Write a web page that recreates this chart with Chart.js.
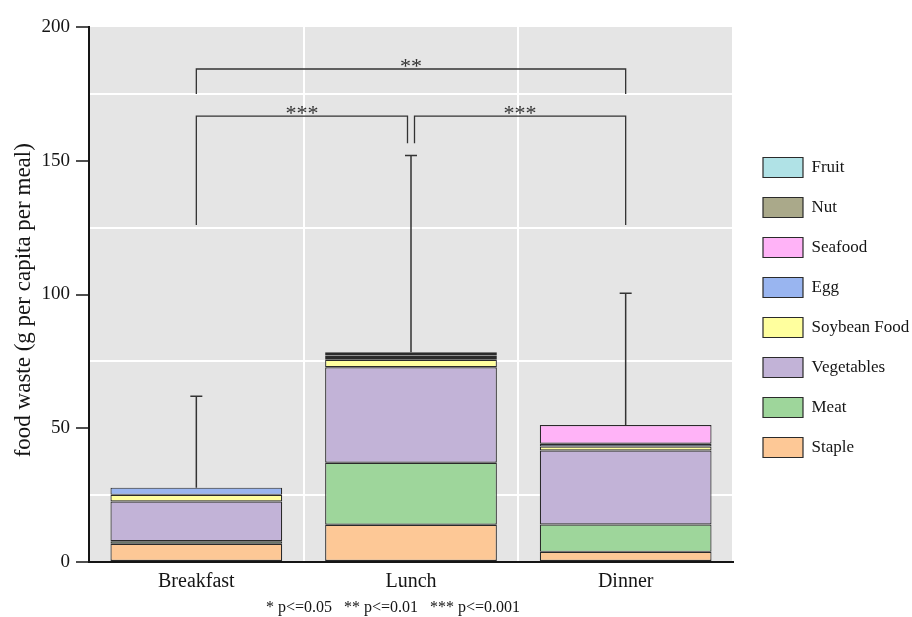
<!DOCTYPE html>
<html>
<head>
<meta charset="utf-8">
<script src="https://cdn.jsdelivr.net/npm/chart.js@4.4.1/dist/chart.umd.min.js"></script>
<style>
  html, body { margin: 0; padding: 0; background: #fff; }
  #wrap { width: 912px; height: 617px; }
</style>
</head>
<body>
<div id="wrap"><canvas id="wasteChart" width="912" height="617"></canvas></div>
<script>
// Food waste per meal, stacked by food group (g per capita per meal)
const meals = ["Breakfast", "Lunch", "Dinner"];

const staple = [6.8, 13.9, 3.8];
const meat = [1.0, 23.2, 10.2];
const vegetables = [14.8, 35.7, 27.7];
const soybeanFood = [2.5, 2.8, 1.5];
const egg = [2.7, 0.7, 1.0];
const seafood = [0, 0.9, 7.0];
const nut = [0, 0.6, 0];
const fruit = [0, 0.6, 0];

// upper error bar (SD) on the stacked total
const totalSd = [34.2, 73.6, 49.3];

// significance brackets: pair of meals, bracket height, leg ends
const sigPairs = [[0, 2], [0, 1], [1, 2]];
const sigLabels = ["**", "***", "***"];
const sigHeights = [184.3, 166.7, 166.7];
const sigLegEnds = [[175, 175], [126, 156.5], [156.5, 126]];

const yTicks = [0, 50, 100, 150, 200];
// trailing spaces nudge the centred texts a little, as in the original
const footnote = "* p<=0.05   ** p<=0.01   *** p<=0.001         ";
const yTitle = "food waste (g per capita per meal)  ";

const groupNames = ["Staple", "Meat", "Vegetables", "Soybean Food", "Egg", "Seafood", "Nut", "Fruit"];
const groupValues = [staple, meat, vegetables, soybeanFood, egg, seafood, nut, fruit];
const groupColors = ["#fdc896", "#9ed69b", "#c2b3d7", "#ffff9e", "#99b5f0", "#ffb3f7", "#aaa98a", "#b0e2e6"];

const serif = "'Liberation Serif', 'Times New Roman', serif";
const ink = "#151515";

const plotBackground = {
  id: "plotBackground",
  beforeDraw(chart) {
    const { ctx, chartArea: a } = chart;
    ctx.save();
    ctx.fillStyle = "#e5e5e5";
    ctx.fillRect(a.left, a.top, a.right - a.left, a.bottom - a.top);
    ctx.restore();
  },
};

// error whiskers on top of each stack
const errorBars = {
  id: "errorBars",
  afterDatasetsDraw(chart) {
    const { ctx } = chart;
    const x = chart.scales.x;
    const y = chart.scales.y;
    ctx.save();
    ctx.strokeStyle = "#333";
    ctx.lineWidth = 1.5;
    meals.forEach((m, i) => {
      const total = groupValues.reduce((s, arr) => s + arr[i], 0);
      const px = x.getPixelForValue(i);
      const y0 = y.getPixelForValue(total);
      const y1 = y.getPixelForValue(total + totalSd[i]);
      ctx.beginPath();
      ctx.moveTo(px, y0);
      ctx.lineTo(px, y1);
      ctx.moveTo(px - 6, y1);
      ctx.lineTo(px + 6, y1);
      ctx.stroke();
    });
    ctx.restore();
  },
};

// significance brackets with asterisks
const sigBrackets = {
  id: "sigBrackets",
  afterDatasetsDraw(chart) {
    const { ctx } = chart;
    const x = chart.scales.x;
    const y = chart.scales.y;
    const shared = (idx) =>
      sigPairs.filter((p) => p[1] - p[0] === 1 && p.includes(idx)).length > 1;
    ctx.save();
    ctx.strokeStyle = "#333";
    ctx.lineWidth = 1.3;
    ctx.fillStyle = "#333";
    ctx.font = "22px " + serif;
    ctx.textAlign = "center";
    ctx.textBaseline = "alphabetic";
    sigPairs.forEach((pair, k) => {
      let xa = x.getPixelForValue(pair[0]);
      let xb = x.getPixelForValue(pair[1]);
      if (pair[1] - pair[0] === 1) {
        if (shared(pair[0])) xa += 3.5;
        if (shared(pair[1])) xb -= 3.5;
      }
      const yl = y.getPixelForValue(sigHeights[k]);
      ctx.beginPath();
      ctx.moveTo(xa, y.getPixelForValue(sigLegEnds[k][0]));
      ctx.lineTo(xa, yl);
      ctx.lineTo(xb, yl);
      ctx.lineTo(xb, y.getPixelForValue(sigLegEnds[k][1]));
      ctx.stroke();
      ctx.fillText(sigLabels[k], (xa + xb) / 2, yl + 4);
    });
    ctx.restore();
  },
};

const ctx = document.getElementById("wasteChart").getContext("2d");

new Chart(ctx, {
  type: "bar",
  data: {
    labels: meals,
    datasets: groupNames.map((name, i) => ({
      label: name,
      data: groupValues[i],
      backgroundColor: groupColors[i],
      borderColor: "#2a2a2a",
      borderWidth: 1.2,
      borderSkipped: false,
      barPercentage: 0.8,
      categoryPercentage: 1.0,
    })),
  },
  options: {
    responsive: false,
    animation: false,
    devicePixelRatio: 1,
    layout: { padding: { top: 27, left: 0, right: 0, bottom: 0 } },
    plugins: {
      tooltip: { enabled: false },
      legend: {
        position: "right",
        fullSize: false,
        reverse: true,
        maxWidth: 169,
        // empty title only pushes the centred column down a bit
        title: { display: true, text: " ", font: { size: 10 }, padding: { top: 0, bottom: 14 } },
        labels: {
          boxWidth: 40,
          boxHeight: 20,
          padding: 20,
          color: ink,
          font: { family: serif, size: 17 },
        },
      },
    },
    scales: {
      x: {
        stacked: true,
        grid: { color: "#ffffff", lineWidth: 2, drawTicks: false, offset: true },
        border: { color: ink, width: 2 },
        ticks: { color: ink, font: { family: serif, size: 20 }, padding: 8 },
        title: {
          display: true,
          text: footnote,
          color: ink,
          font: { family: serif, size: 16 },
          padding: { top: 0, bottom: 0 },
        },
        afterFit: (s) => { s.height = 55; },
      },
      y: {
        stacked: true,
        min: yTicks[0],
        max: yTicks[yTicks.length - 1],
        ticks: {
          stepSize: 25,
          color: ink,
          font: { family: serif, size: 19 },
          padding: 6,
          callback: (v) => (yTicks.includes(v) ? v : ""),
        },
        grid: {
          lineWidth: 2,
          tickLength: 13,
          tickWidth: 1.5,
          color: (c) => (c.tick && !yTicks.includes(c.tick.value) ? "#ffffff" : "rgba(0,0,0,0)"),
          tickColor: (c) => (c.tick && yTicks.includes(c.tick.value) ? ink : "rgba(0,0,0,0)"),
        },
        border: { color: ink, width: 2 },
        title: {
          display: true,
          text: yTitle,
          color: ink,
          font: { family: serif, size: 23 },
          padding: { top: 10, bottom: 0 },
        },
        afterFit: (s) => { s.width = 89; },
      },
      gap: {
        position: "right",
        display: true,
        grid: { display: false },
        border: { display: false },
        ticks: { display: false },
        afterFit: (s) => { s.width = 10; },
      },
    },
  },
  plugins: [plotBackground, errorBars, sigBrackets],
});
</script>
</body>
</html>
